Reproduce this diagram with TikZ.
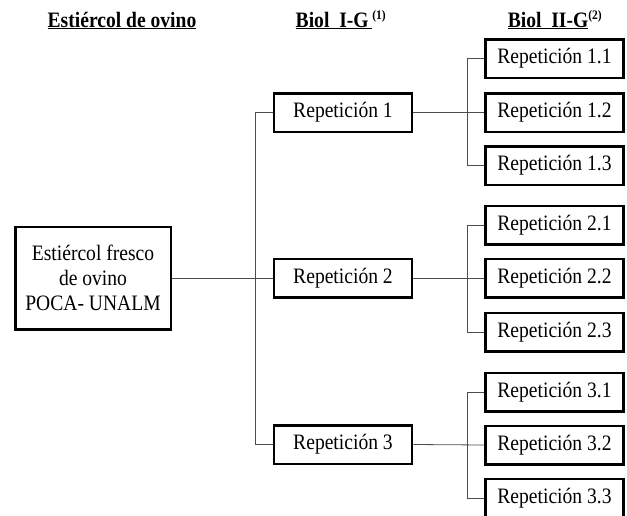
\documentclass[tikz,border=0pt]{standalone}
\usepackage{fontspec}
\setmainfont{Liberation Serif}[FakeStretch=0.89]
\begin{document}
\begin{tikzpicture}[x=1pt,y=-1pt,
  box/.style={draw, line width=2.5pt, minimum width=138pt, minimum height=38.5pt, inner sep=0pt,
    font=\fontsize{22}{25}\selectfont},
  srcbox/.style={box, minimum width=155.5pt, minimum height=102.5pt, align=center},
  conn/.style={line width=0.8pt, draw=black!70},
  head/.style={font=\fontsize{22}{25}\selectfont\bfseries, inner sep=0pt, anchor=base}]
\useasboundingbox (0,0) rectangle (627,515);
% headers
\node[head] (h1) at (122,27) {\underline{Estiércol de ovino}};
\node[head] (h2) at (341,27) {\underline{Biol~~I-G\,}\textsuperscript{\fontsize{13}{13}\selectfont (1)}};
\node[head] (h3) at (555,27) {\underline{Biol~~II-G}\textsuperscript{\fontsize{13}{13}\selectfont (2)}};
% boxes
\node[srcbox] (src) at (93,278) {Estiércol fresco\\de ovino\\POCA- UNALM};
\node[box] (r1) at (343,112.5) {Repetición 1};
\node[box] (r2) at (343,278) {Repetición 2};
\node[box] (r3) at (343,444.5) {Repetición 3};
\node[box] (r11) at (554.5,58.5) {Repetición 1.1};
\node[box] (r12) at (554.5,112.5) {Repetición 1.2};
\node[box] (r13) at (554.5,165.5) {Repetición 1.3};
\node[box] (r21) at (554.5,225) {Repetición 2.1};
\node[box] (r22) at (554.5,278) {Repetición 2.2};
\node[box] (r23) at (554.5,332) {Repetición 2.3};
\node[box] (r31) at (554.5,392) {Repetición 3.1};
\node[box] (r32) at (554.5,445) {Repetición 3.2};
\node[box] (r33) at (554.5,498) {Repetición 3.3};
% trunk coordinates
\coordinate (t1) at (255,0);
\coordinate (t2) at (467,0);
% connectors level 1
\draw[conn] (src.east) -- (r2.west);
\draw[conn] (r1.west) -- (r1.west -| t1) -- (r3.west -| t1) -- (r3.west);
% connectors level 2
\draw[conn] (r1.east) -- (r12.west);
\draw[conn] (r11.west) -- (r11.west -| t2) -- (r13.west -| t2) -- (r13.west);
\draw[conn] (r2.east) -- (r22.west);
\draw[conn] (r21.west) -- (r21.west -| t2) -- (r23.west -| t2) -- (r23.west);
\draw[conn] (r3.east) -- (r32.west);
\draw[conn] (r31.west) -- (r31.west -| t2) -- (r33.west -| t2) -- (r33.west);
\end{tikzpicture}
\end{document}
